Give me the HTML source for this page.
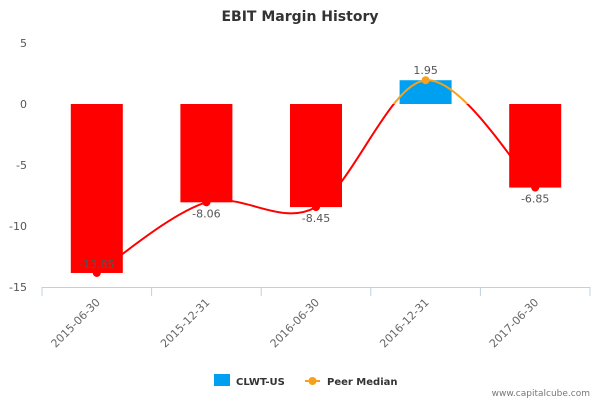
<!DOCTYPE html>
<html><head><meta charset="utf-8"><style>
body{margin:0;background:#fff;font-family:"Liberation Sans","DejaVu Sans",sans-serif}
svg text{font-family:"DejaVu Sans","Liberation Sans",sans-serif}
</style></head><body>
<svg width="600" height="400" viewBox="0 0 600 400" xmlns="http://www.w3.org/2000/svg">
<text x="300" y="21" text-anchor="middle" font-size="14" font-weight="bold" fill="#333">EBIT Margin History</text>
<g id="axes"></g><g id="bars"></g><g id="line"></g><g id="labels"></g>
<g>
<rect x="214" y="374" width="16" height="12" fill="#00a0f0"/>
<text x="236" y="385" font-size="10" font-weight="bold" fill="#333">CLWT-US</text>
<line x1="305" y1="381" x2="320" y2="381" stroke="#f7a11a" stroke-width="2"/>
<circle cx="312.5" cy="381" r="4" fill="#f7a11a"/>
<text x="327" y="385" font-size="10" font-weight="bold" fill="#333">Peer Median</text>
</g>
<text x="590" y="396" text-anchor="end" font-size="9" fill="#777">www.capitalcube.com</text>
</svg>
<script>
const categories=["2015-06-30","2015-12-31","2016-06-30","2016-12-31","2017-06-30"];
const companyValues=[-13.85,-8.06,-8.45,1.95,-6.85];
const peerValues=[-13.85,-8.06,-8.45,1.95,-6.85];
const yTicks=[5,0,-5,-10,-15];
const NS="http://www.w3.org/2000/svg";
const L=42,R=590,T=43,B=287,ymax=5,ymin=-15;
const y=v=>T+(ymax-v)/(ymax-ymin)*(B-T);
const bw=(R-L)/categories.length;
const x=i=>L+bw*(i+0.5);
function mk(tag,attrs,parent){const e=document.createElementNS(NS,tag);for(const k in attrs)e.setAttribute(k,attrs[k]);document.getElementById(parent).appendChild(e);return e;}
yTicks.forEach(t=>{const e=mk('text',{x:27,y:y(t)+4,'text-anchor':'end','font-size':11,fill:'#555'},'axes');e.textContent=t;
});
const ax=mk('line',{x1:L,y1:B+0.5,x2:R,y2:B+0.5,stroke:'#c0d0e0'},'axes');

for(let i=0;i<=categories.length;i++){mk('line',{x1:L+bw*i,y1:B,x2:L+bw*i,y2:B+9,stroke:'#c0d0e0'},'axes');}
categories.forEach((c,i)=>{const e=mk('text',{x:x(i)+4,y:B+16,'text-anchor':'end','font-size':11,fill:'#666',transform:`rotate(-45 ${x(i)+4} ${B+16})`},'axes');e.textContent=c;
});
companyValues.forEach((v,i)=>{const y0=y(0),y1=y(v);const r=mk('rect',{x:x(i)-26,y:Math.min(y0,y1),width:52,height:Math.abs(y1-y0),fill:v<0?'#ff0000':'#00a0f0'},'bars');
});
// spline
const pts=peerValues.map((v,i)=>[x(i),y(v)]);
let d=`M${pts[0][0]},${pts[0][1]}`;
for(let i=0;i<pts.length-1;i++){const p0=pts[Math.max(0,i-1)],p1=pts[i],p2=pts[i+1],p3=pts[Math.min(pts.length-1,i+2)];
const k=1/4;const c1=[p1[0]+(p2[0]-p0[0])*k*0.66,p1[1]+(p2[1]-p0[1])*k*0.66];const c2=[p2[0]-(p3[0]-p1[0])*k*0.66,p2[1]-(p3[1]-p1[1])*k*0.66];
d+=` C${c1[0]},${c1[1]} ${c2[0]},${c2[1]} ${p2[0]},${p2[1]}`;}
const defs=mk('defs',{},'line');
const ca=document.createElementNS(NS,'clipPath');ca.setAttribute('id','above');defs.appendChild(ca);
const r1=document.createElementNS(NS,'rect');r1.setAttribute('x',0);r1.setAttribute('y',0);r1.setAttribute('width',600);r1.setAttribute('height',y(0));ca.appendChild(r1);
const cb=document.createElementNS(NS,'clipPath');cb.setAttribute('id','below');defs.appendChild(cb);
const r2=document.createElementNS(NS,'rect');r2.setAttribute('x',0);r2.setAttribute('y',y(0));r2.setAttribute('width',600);r2.setAttribute('height',400);cb.appendChild(r2);
const pa=mk('path',{d:d,fill:'none',stroke:'#f7a11a','stroke-width':2,'clip-path':'url(#above)'},'line');

const pb=mk('path',{d:d,fill:'none',stroke:'#ff0000','stroke-width':2,'clip-path':'url(#below)'},'line');

peerValues.forEach((v,i)=>{const c=mk('circle',{cx:x(i),cy:y(v),r:4,fill:v<0?'#ff0000':'#f7a11a'},'line');
});
companyValues.forEach((v,i)=>{let ly=v<0?y(v)+15:y(v)-6;if(ly>B-5)ly=y(v)-5;
const t=mk('text',{x:x(i),y:ly,'text-anchor':'middle','font-size':11,fill:'#555'},'labels');t.textContent=v.toFixed(2);
});
</script>
</body></html>
